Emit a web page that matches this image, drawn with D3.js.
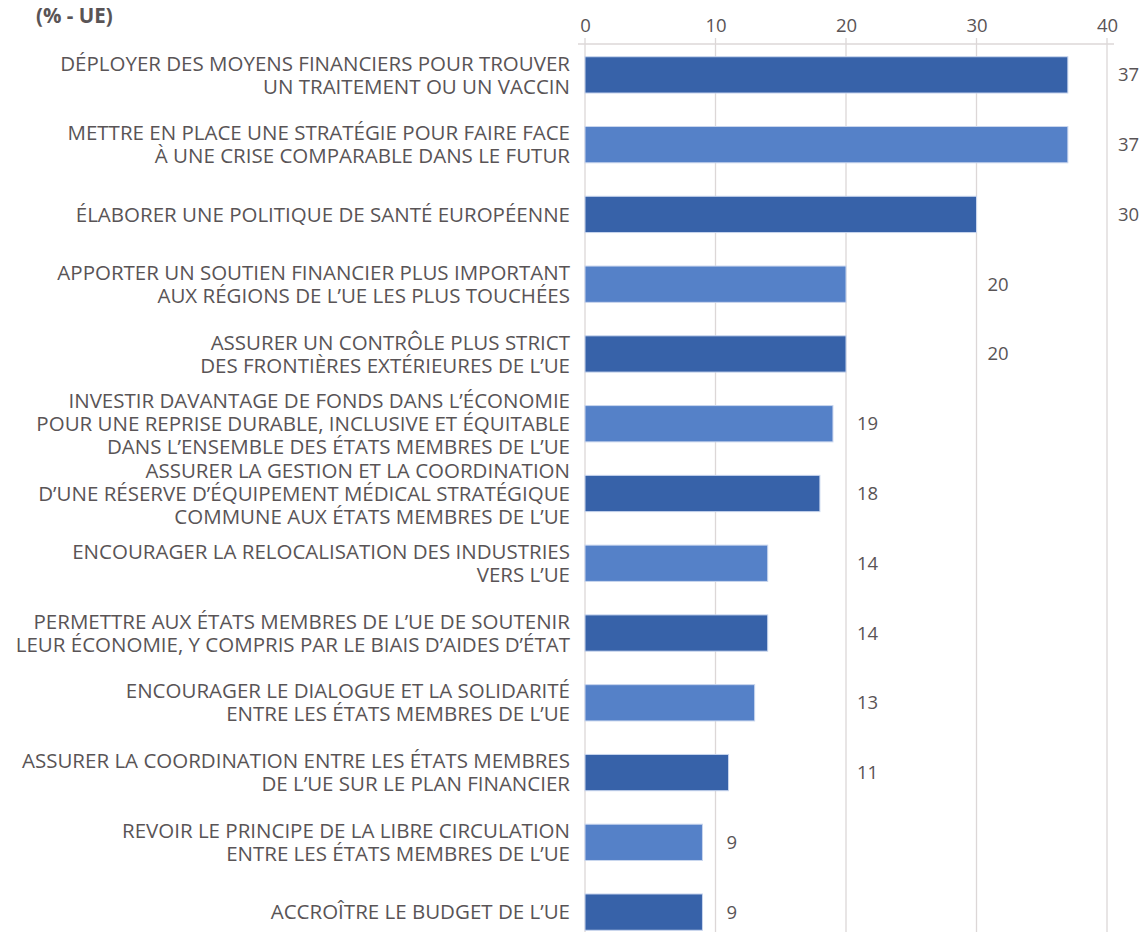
<!DOCTYPE html>
<html>
<head>
<meta charset="utf-8">
<script src="https://cdn.jsdelivr.net/npm/d3@7"></script>
<style>
    body { margin: 0; background: #fff; }
    svg { font-family: "Open Sans", "Noto Sans", sans-serif; }
</style>
</head>
<body>
<div id="chart"></div>
<script>
const categories = [
    ["DÉPLOYER DES MOYENS FINANCIERS POUR TROUVER", "UN TRAITEMENT OU UN VACCIN"],
    ["METTRE EN PLACE UNE STRATÉGIE POUR FAIRE FACE", "À UNE CRISE COMPARABLE DANS LE FUTUR"],
    ["ÉLABORER UNE POLITIQUE DE SANTÉ EUROPÉENNE"],
    ["APPORTER UN SOUTIEN FINANCIER PLUS IMPORTANT", "AUX RÉGIONS DE L’UE LES PLUS TOUCHÉES"],
    ["ASSURER UN CONTRÔLE PLUS STRICT", "DES FRONTIÈRES EXTÉRIEURES DE L’UE"],
    ["INVESTIR DAVANTAGE DE FONDS DANS L’ÉCONOMIE", "POUR UNE REPRISE DURABLE, INCLUSIVE ET ÉQUITABLE", "DANS L’ENSEMBLE DES ÉTATS MEMBRES DE L’UE"],
    ["ASSURER LA GESTION ET LA COORDINATION", "D’UNE RÉSERVE D’ÉQUIPEMENT MÉDICAL STRATÉGIQUE", "COMMUNE AUX ÉTATS MEMBRES DE L’UE"],
    ["ENCOURAGER LA RELOCALISATION DES INDUSTRIES", "VERS L’UE"],
    ["PERMETTRE AUX ÉTATS MEMBRES DE L’UE DE SOUTENIR", "LEUR ÉCONOMIE, Y COMPRIS PAR LE BIAIS D’AIDES D’ÉTAT"],
    ["ENCOURAGER LE DIALOGUE ET LA SOLIDARITÉ", "ENTRE LES ÉTATS MEMBRES DE L’UE"],
    ["ASSURER LA COORDINATION ENTRE LES ÉTATS MEMBRES", "DE L’UE SUR LE PLAN FINANCIER"],
    ["REVOIR LE PRINCIPE DE LA LIBRE CIRCULATION", "ENTRE LES ÉTATS MEMBRES DE L’UE"],
    ["ACCROÎTRE LE BUDGET DE L’UE"]
];
const values = [37, 37, 30, 20, 20, 19, 18, 14, 14, 13, 11, 9, 9];
const xTicks = [0, 10, 20, 30, 40];
const unitLabel = "(% - UE)";

const width = 1141, height = 932;
const textColor = "#595456";
const gridColor = "#dcd7d7";
const barColors = ["#3762a9", "#5581c8"];

const svg = d3.select("#chart").append("svg")
    .attr("width", width)
    .attr("height", height);

const xScale = d3.scaleLinear()
    .domain([0, 40])
    .range([585, 1107]);

const yScale = d3.scaleBand()
    .domain(d3.range(values.length))
    .range([40, 947])
    .paddingInner(0.48)
    .paddingOuter(0.24);

// gridlines
svg.append("g")
    .selectAll("line")
    .data(xTicks)
    .enter().append("line")
    .attr("x1", d => xScale(d))
    .attr("x2", d => xScale(d))
    .attr("y1", 38)
    .attr("y2", height)
    .attr("stroke", gridColor)
    .attr("stroke-width", 1.3);

// top axis
const xAxis = d3.axisTop(xScale)
    .tickValues(xTicks)
    .tickSize(0)
    .tickPadding(12)
    .tickSizeOuter(0);

const gXAxis = svg.append("g")
    .attr("transform", "translate(0,44)")
    .call(xAxis);

gXAxis.select(".domain")
    .attr("d", `M${xScale(0) - 7},0H${xScale(40) + 7}`)
    .attr("stroke", gridColor)
    .attr("stroke-width", 1.3);

gXAxis.selectAll("text")
    .attr("fill", textColor)
    .attr("font-size", 18.5)
    .attr("font-family", "Open Sans, sans-serif");

// bars
svg.append("g")
    .selectAll("rect")
    .data(values)
    .enter().append("rect")
    .attr("x", xScale(0))
    .attr("y", (d, i) => yScale(i))
    .attr("width", d => xScale(d) - xScale(0))
    .attr("height", yScale.bandwidth())
    .attr("fill", (d, i) => barColors[i % 2])
    .attr("stroke", "#c9d6ee")
    .attr("stroke-width", 1);

// value labels, placed past the next gridline
svg.append("g")
    .selectAll("text")
    .data(values)
    .enter().append("text")
    .attr("x", d => xScale(Math.floor(d / 10) * 10 + 10) + 11)
    .attr("y", (d, i) => yScale(i) + yScale.bandwidth() / 2)
    .attr("dy", "0.35em")
    .attr("fill", textColor)
    .attr("font-size", 18.5)
    .text(d => d);

// category labels
const lineHeight = 23;
const labels = svg.append("g")
    .selectAll("text")
    .data(categories)
    .enter().append("text")
    .attr("text-anchor", "end")
    .attr("fill", textColor)
    .attr("font-size", 20.5)
    .attr("transform", (d, i) => `translate(570,${yScale(i) + yScale.bandwidth() / 2})`);

labels.selectAll("tspan")
    .data(d => d.map((line, j) => ({line, j, n: d.length})))
    .enter().append("tspan")
    .attr("x", 0)
    .attr("y", d => (d.j - (d.n - 1) / 2) * lineHeight)
    .attr("dy", "0.35em")
    .text(d => d.line);

// unit title
svg.append("text")
    .attr("x", 36)
    .attr("y", 16)
    .attr("dy", "0.35em")
    .attr("fill", textColor)
    .attr("font-size", 20.5)
    .attr("font-weight", "bold")
    .text(unitLabel);
</script>
</body>
</html>
